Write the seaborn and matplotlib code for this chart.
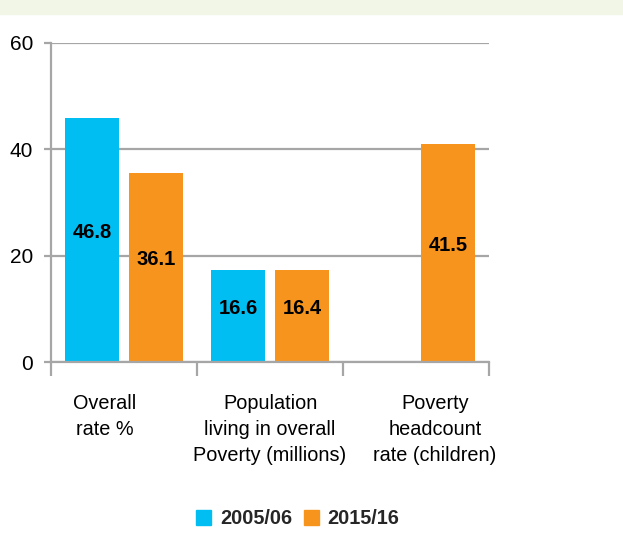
import matplotlib
matplotlib.use("Agg")
import matplotlib.pyplot as plt
import matplotlib.patches as mpatches
import seaborn as sns
import pandas as pd
import numpy as np

categories = ["Overall\nrate %",
              "Population\nliving in overall\nPoverty (millions)",
              "Poverty\nheadcount\nrate (children)"]
years = ["2005/06", "2015/16"]
# bar heights as drawn in the picture
heights_0506 = [45.8, 17.3, np.nan]
heights_1516 = [35.6, 17.3, 41.0]
# printed labels
labels_0506 = ["46.8", "16.6", ""]
labels_1516 = ["36.1", "16.4", "41.5"]
colors = ["#00BDF2", "#F7941E"]

df = pd.DataFrame({
    "cat": categories * 2,
    "year": [years[0]] * 3 + [years[1]] * 3,
    "value": heights_0506 + heights_1516,
})

sns.set_style("white")
plt.rcParams["font.family"] = ["Liberation Sans", "DejaVu Sans"]
grid_col = "#A6A6A6"

fig = plt.figure(figsize=(6.23, 5.35), dpi=100)
fig.patches.append(mpatches.Rectangle((0, 1 - 14 / 535), 1, 14 / 535,
                                      transform=fig.transFigure,
                                      color="#F1F6E6", zorder=0))
ax = fig.add_axes([0.082, 0.323, 0.703, 0.597])

sns.barplot(data=df, x="cat", y="value", hue="year", palette=colors,
            width=0.88, gap=0.16, ax=ax, legend=False, saturation=1,
            edgecolor="none")

# value labels in the middle of each bar
for cont, labs in zip(ax.containers, [labels_0506, labels_1516]):
    for bar, lab in zip(cont.patches, labs):
        if bar is None or not lab:
            continue
        ax.text(bar.get_x() + bar.get_width() / 2,
                bar.get_height() / 2 + 1.5, lab,
                ha="center", va="center", fontsize=14.5,
                fontweight="bold", color="black")

ax.set_ylim(0, 60)
ax.set_xlim(-0.5, 2.5)
ax.set_yticks([0, 20, 40, 60])
ax.yaxis.grid(True, color=grid_col, linewidth=1.6)
ax.set_axisbelow(True)
ax.tick_params(axis="y", length=5, width=1.6, color=grid_col,
               labelsize=15, labelcolor="black", pad=8, left=True)

ax.set_xticks([-0.5, 0.5, 1.5, 2.5])
ax.set_xticklabels([])
ax.set_xticks([-0.13, 1.0, 2.13], minor=True)
ax.set_xticklabels(categories, minor=True, fontsize=14.3, linespacing=1.45,
                   va="top", color="black")
ax.tick_params(axis="x", which="major", length=10, width=1.6,
               color=grid_col, bottom=True)
ax.tick_params(axis="x", which="minor", length=0, pad=23)

for s in ["top", "right"]:
    ax.spines[s].set_visible(False)
for s in ["left", "bottom"]:
    ax.spines[s].set_color(grid_col)
    ax.spines[s].set_linewidth(1.6)
ax.set_xlabel("")
ax.set_ylabel("")

handles = [mpatches.Patch(color=c, label=y) for c, y in zip(colors, years)]
fig.legend(handles=handles, loc="center", bbox_to_anchor=(0.478, 0.03),
           ncol=2, frameon=False, handlelength=0.75, handleheight=0.75,
           handletextpad=0.45, columnspacing=0.6,
           prop={"weight": "bold", "size": 14.3})

fig.savefig("out.png", dpi=100)
